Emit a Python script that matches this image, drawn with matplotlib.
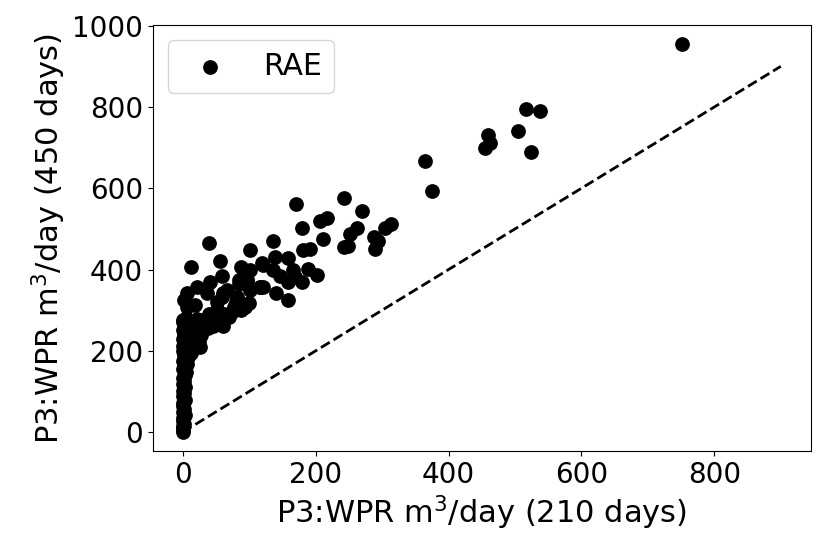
import numpy as np
import matplotlib
matplotlib.use("Agg")
import matplotlib.pyplot as plt

# valores leídos a ojo del gráfico original
# columna densa cerca de x = 0
x_col = [0, 0, 1, 0, 2, 0, 1, 3, 0, 2, 1, 0, 3, 1, 2, 0, 4, 1, 2, 0,
         3, 5, 1, 2, 6, 0, 4, 8, 2, 12, 1, 5, 15, 0, 3, 10, 20, 1, 6, 25,
         2, 14, 28, 0, 8, 20, 3, 38, 1, 12, 45, 30, 5, 22, 55, 40, 62, 70,
         88, 94, 80, 2]
y_col = [0, 5, 10, 15, 20, 28, 35, 42, 50, 58, 65, 72, 80, 88, 95, 102, 110, 118, 125, 132,
         140, 148, 155, 162, 168, 175, 182, 186, 190, 195, 200, 205, 205, 212, 218, 222, 215, 228, 232, 225,
         240, 242, 238, 250, 255, 250, 262, 255, 270, 268, 262, 265, 280, 278, 272, 290, 290, 282,
         300, 308, 320, 325]

# resto de los puntos
x_pts = [171, 243, 270, 206, 217, 180, 313, 305, 262, 251, 287, 294, 290, 211, 243, 249,
         135, 181, 191, 138, 159, 121, 136, 146, 166, 169, 189, 202, 159, 179, 120, 141, 159,
         39, 101, 56, 12, 87, 119, 101, 97, 84, 59, 41, 21, 6, 36, 61, 116, 99, 82, 77,
         51, 51, 46, 19, 6, 1, 31, 31, 67, 61, 16, 26,
         56, 74, 81, 44, 59, 66, 84, 96, 101, 116,
         751, 365, 375, 459, 462, 455, 516, 538, 504, 524]
y_pts = [562, 575, 543, 520, 526, 502, 512, 503, 502, 488, 479, 469, 450, 475, 455, 458,
         469, 448, 450, 432, 428, 411, 399, 383, 399, 381, 401, 387, 370, 370, 358, 342, 325,
         466, 448, 421, 405, 407, 415, 399, 374, 374, 383, 370, 356, 342, 342, 342, 358, 317, 333, 309,
         321, 300, 284, 313, 309, 276, 276, 251, 284, 260, 235, 210,
         293, 296, 309, 267, 333, 349, 364, 374, 349, 357,
         954, 666, 593, 730, 712, 698, 795, 789, 742, 688]

x_210 = np.array(x_col + x_pts)
y_450 = np.array(y_col + y_pts)

# línea de referencia y = x
x_ref = [0, 900]

fig = plt.figure(figsize=(8.31, 5.55), dpi=100)
ax = fig.add_subplot(111)
fig.subplots_adjust(left=0.184, right=0.9756, top=0.955, bottom=0.1865)

ax.scatter(x_210, y_450, s=92, color="black", label="RAE")
ax.plot(x_ref, x_ref, "k--", lw=2)

ax.set_xlabel("P3:WPR m$^3$/day (210 days)", fontsize=22, labelpad=3)
ax.set_ylabel("P3:WPR m$^3$/day (450 days)", fontsize=22, labelpad=3)
ax.tick_params(labelsize=20)
ax.set_xticks([0, 200, 400, 600, 800])
ax.set_yticks([0, 200, 400, 600, 800, 1000])
ax.legend(loc="upper left", fontsize=21.5)

fig.savefig("out.png", dpi=100)
